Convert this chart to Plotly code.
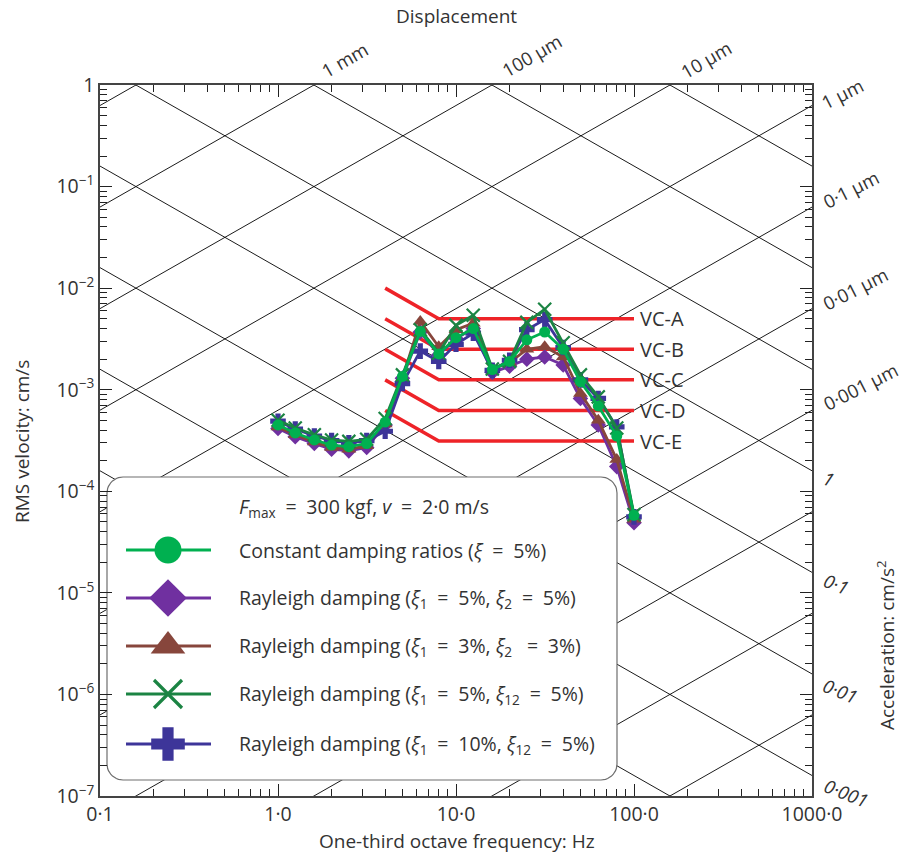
import numpy as np
import plotly.graph_objects as go

# One-third octave band centre frequencies (Hz)
freq = [1, 1.25, 1.6, 2, 2.5, 3.15, 4, 5, 6.3, 8, 10, 12.5, 16, 20, 25, 31.5, 40, 50, 63, 80, 100]

# RMS velocity responses (cm/s)
v_const = [4.5e-4, 3.75e-4, 3.2e-4, 2.85e-4, 2.75e-4, 2.95e-4, 4.8e-4, 1.35e-3, 3.75e-3, 2.25e-3, 3.25e-3,
           4.0e-3, 1.58e-3, 1.9e-3, 3.1e-3, 3.7e-3, 2.5e-3, 1.2e-3, 6.9e-4, 3.5e-4, 5.8e-5]
v_ray_5_5 = [4.15e-4, 3.45e-4, 2.95e-4, 2.6e-4, 2.5e-4, 2.7e-4, 4.5e-4, 1.3e-3, 3.7e-3, 2.2e-3, 3.2e-3,
             4.0e-3, 1.48e-3, 1.7e-3, 2.0e-3, 2.1e-3, 1.75e-3, 8.2e-4, 4.5e-4, 1.75e-4, 4.9e-5]
v_ray_3_3 = [4.3e-4, 3.6e-4, 3.05e-4, 2.7e-4, 2.6e-4, 2.8e-4, 4.6e-4, 1.3e-3, 4.7e-3, 2.65e-3, 3.9e-3,
             4.5e-3, 1.6e-3, 1.85e-3, 2.5e-3, 2.65e-3, 2.1e-3, 9.2e-4, 5.0e-4, 2.05e-4, 5.3e-5]
v_ray_5_12 = [5.0e-4, 4.2e-4, 3.6e-4, 3.2e-4, 3.1e-4, 3.25e-4, 5.2e-4, 1.4e-3, 3.9e-3, 2.3e-3, 4.3e-3,
              5.4e-3, 1.6e-3, 1.9e-3, 4.6e-3, 6.2e-3, 2.9e-3, 1.4e-3, 8.5e-4, 4.2e-4, 5.9e-5]
v_ray_10_12 = [4.9e-4, 4.1e-4, 3.5e-4, 3.15e-4, 3.0e-4, 3.15e-4, 3.9e-4, 1.15e-3, 2.4e-3, 1.9e-3, 2.8e-3,
               3.6e-3, 1.55e-3, 1.95e-3, 3.9e-3, 4.9e-3, 2.6e-3, 1.25e-3, 8.2e-4, 4.3e-4, 5.6e-5]

# Vibration criterion curves (cm/s): doubled level at 4 Hz, flat from 8 Hz to 100 Hz
vc_names = ["VC-A", "VC-B", "VC-C", "VC-D", "VC-E"]
vc_levels = [5e-3, 2.5e-3, 1.25e-3, 6.25e-4, 3.125e-4]
vc_freq = [4, 8, 100]

# Tripartite grid: constant displacement (cm) and constant acceleration (cm/s^2)
disp_levels = [10.0 ** k for k in range(-11, 1)]
acc_levels = [10.0 ** k for k in range(-4, 4)]

# Axis ticks
x_ticks = [0.1, 1, 10, 100, 1000]
x_ticktext = ["0·1", "1·0", "10·0", "100·0", "1000·0"]
y_ticks = [10.0 ** k for k in range(-7, 1)]
y_ticktext = ["10<sup>−%d</sup>" % (-k) for k in range(-7, 0)] + ["1"]

# Displacement / acceleration scale labels
disp_top_labels = ["1 mm", "100 µm", "10 µm"]
disp_right_labels = ["1 µm", "0·1 µm", "0·01 µm", "0·001 µm"]
acc_right_labels = ["1", "0·1", "0·01", "0·001"]

EQ = "\u2002=\u2002"
series = [
    ("Rayleigh damping (<i>ξ</i><sub>1</sub>" + EQ + "5%, <i>ξ</i><sub>2</sub>" + EQ + "5%)",
     v_ray_5_5, "#7030A0", "diamond", 12, 29),
    ("Rayleigh damping (<i>ξ</i><sub>1</sub>" + EQ + "3%, <i>ξ</i><sub>2</sub> " + EQ + "3%)",
     v_ray_3_3, "#87463C", "triangle-up", 13, 30),
    ("Rayleigh damping (<i>ξ</i><sub>1</sub>" + EQ + "10%, <i>ξ</i><sub>12</sub>" + EQ + "5%)",
     v_ray_10_12, "#3D3599", "cross", 13, 28),
    ("Rayleigh damping (<i>ξ</i><sub>1</sub>" + EQ + "5%, <i>ξ</i><sub>12</sub>" + EQ + "5%)",
     v_ray_5_12, "#1B8443", "x-thin", 13, 28),
    ("Constant damping ratios (<i>ξ</i>" + EQ + "5%)", v_const, "#00B050", "circle", 11, 27),
]
legend_order = [4, 0, 1, 3, 2]

RED = "#EE2328"
TXT = "#333333"
FONT = "Open Sans"

# plot-area geometry in pixels
W, H = 902, 857
L, R, T, B = 100, 812, 85, 796


def px(xp):
    return (xp - L) / (R - L)


def py(yp):
    return (B - yp) / (B - T)


def label(x, y, text, size=19, angle=0, xanchor="center", xref="paper", yref="paper"):
    fig.add_annotation(x=x, y=y, xref=xref, yref=yref, text=text, showarrow=False, textangle=angle,
                       xanchor=xanchor, yanchor="middle", font=dict(family=FONT, size=size, color=TXT))


fig = go.Figure()

# diagonal grid lines
f_ends = [0.1, 1000]
gx, gy = [], []
for d in disp_levels:
    gx += f_ends + [None]
    gy += [2 * np.pi * f * d for f in f_ends] + [None]
for a in acc_levels:
    gx += f_ends + [None]
    gy += [a / (2 * np.pi * f) for f in f_ends] + [None]
fig.add_trace(go.Scatter(x=gx, y=gy, mode="lines", line=dict(color="black", width=0.9),
                         hoverinfo="skip", showlegend=False))

# VC curves
for name, lev in zip(vc_names, vc_levels):
    fig.add_trace(go.Scatter(x=vc_freq, y=[2 * lev, lev, lev], mode="lines",
                             line=dict(color=RED, width=3.5), showlegend=False, hoverinfo="skip"))
    fig.add_annotation(x=np.log10(vc_freq[-1]), y=np.log10(lev), xref="x", yref="y", text=name,
                       showarrow=False, xanchor="left", yanchor="middle", xshift=4,
                       font=dict(family=FONT, size=20, color=TXT))

# response series
for name, vals, col, sym, ms, _ in series:
    mline = dict(width=2.2, color=col) if sym == "x-thin" else dict(width=0)
    fig.add_trace(go.Scatter(x=freq, y=vals, mode="lines+markers", name=name,
                             line=dict(color=col, width=2.8),
                             marker=dict(symbol=sym, size=ms, color=col, line=mline),
                             showlegend=False))

# legend panel on an overlay axis (unit coordinates of the plot area)
bx0, bx1, by0, by1, rad = px(107), px(617), py(780), py(477), 16
rx, ry = rad / (R - L), rad / (B - T)
box_x, box_y = [], []
corners = [(bx1 - rx, by1 - ry, 0, 90), (bx0 + rx, by1 - ry, 90, 180),
           (bx0 + rx, by0 + ry, 180, 270), (bx1 - rx, by0 + ry, 270, 360)]
for cx, cy, a0, a1 in corners:
    for t in np.linspace(np.radians(a0), np.radians(a1), 12):
        box_x.append(cx + rx * np.cos(t))
        box_y.append(cy + ry * np.sin(t))
box_x.append(box_x[0])
box_y.append(box_y[0])
fig.add_trace(go.Scatter(x=box_x, y=box_y, xaxis="x2", yaxis="y2", mode="lines", fill="toself",
                         fillcolor="white", line=dict(color="#6E6E6E", width=1.2),
                         hoverinfo="skip", showlegend=False))

row_y = [550, 598, 646, 694, 744]
for ry_px, idx in zip(row_y, legend_order):
    name, vals, col, sym, ms, lms = series[idx]
    yy = py(ry_px)
    fig.add_trace(go.Scatter(x=[px(126), px(211)], y=[yy, yy], xaxis="x2", yaxis="y2", mode="lines",
                             line=dict(color=col, width=3), hoverinfo="skip", showlegend=False))
    mline = dict(width=3.2, color=col) if sym == "x-thin" else dict(width=0)
    fig.add_trace(go.Scatter(x=[px(168)], y=[yy], xaxis="x2", yaxis="y2", mode="markers",
                             marker=dict(symbol=sym, size=lms, color=col, line=mline),
                             hoverinfo="skip", showlegend=False))
    label(px(237), yy, name, size=19.5, xanchor="left")

label(px(237), py(507), "<i>F</i><sub>max</sub>" + EQ + "300 kgf, <i>v</i>" + EQ + "2·0 m/s",
      size=19.5, xanchor="left")

# displacement scale labels
for lab, (cx, cy) in zip(disp_top_labels, [(345, 60), (531, 55), (706, 60)]):
    label(px(cx), py(cy), lab, size=18.5, angle=-30)
for lab, (cx, cy) in zip(disp_right_labels, [(842, 93), (850, 189), (855, 288), (860, 386)]):
    label(px(cx), py(cy), lab, size=18.5, angle=-27)
# acceleration scale labels
for lab, (cx, cy) in zip(acc_right_labels, [(829, 478), (836, 583), (840, 690), (846, 792)]):
    label(px(cx), py(cy), "<i>%s</i>" % lab, size=18.5, angle=22)

# axis titles
label(px(456), py(16), "Displacement")
label(px(457), py(841), "One-third octave frequency: Hz")
label(px(22), py(442), "RMS velocity: cm/s", angle=-90)
label(px(886), py(645), "Acceleration: cm/s<sup>2</sup>", angle=-90)

x_minor = [m * 10.0 ** k for k in range(-1, 3) for m in range(2, 10)]
y_minor = [m * 10.0 ** k for k in range(-7, 0) for m in range(2, 10)]

axis_common = dict(type="log", showgrid=False, zeroline=False, showline=True, linecolor="#444444",
                   linewidth=1.5, mirror="ticks", ticks="inside", ticklen=12, tickwidth=1.2,
                   tickcolor="#222222", tickfont=dict(family=FONT, size=19.5, color=TXT))

fig.update_layout(
    width=W, height=H,
    margin=dict(l=L, r=W - R, t=T, b=H - B),
    paper_bgcolor="white", plot_bgcolor="white",
    showlegend=False,
    xaxis=dict(range=[-1, 3], tickvals=x_ticks, ticktext=x_ticktext,
               minor=dict(tickvals=x_minor, ticks="inside", ticklen=7, tickcolor="#222222", tickwidth=1),
               **axis_common),
    yaxis=dict(range=[-7, 0], tickvals=y_ticks, ticktext=y_ticktext,
               minor=dict(tickvals=y_minor, ticks="inside", ticklen=7, tickcolor="#222222", tickwidth=1),
               **axis_common),
    xaxis2=dict(overlaying="x", range=[0, 1], visible=False, fixedrange=True),
    yaxis2=dict(overlaying="y", range=[0, 1], visible=False, fixedrange=True),
)

fig.write_html("out.html")
